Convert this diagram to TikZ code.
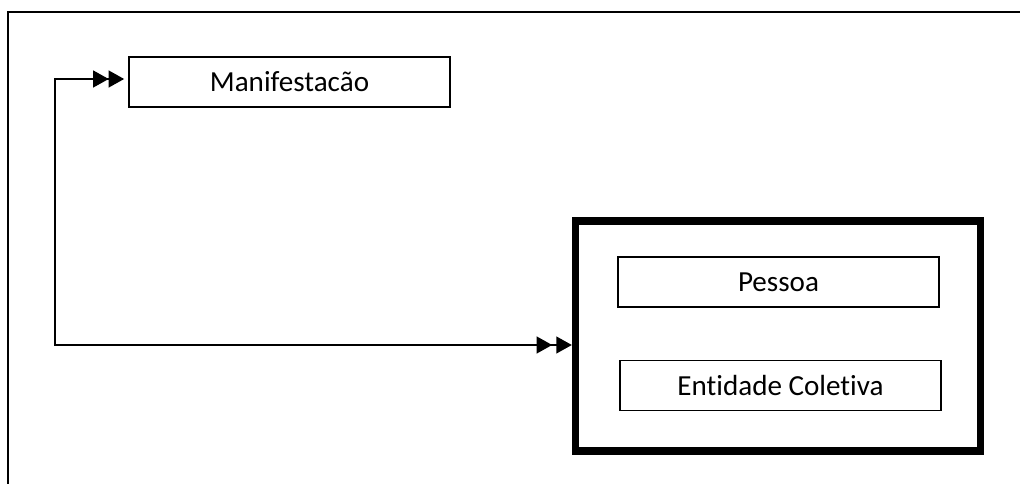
\documentclass[tikz,border=0pt]{standalone}
\usepackage{fontspec}
\setmainfont{Carlito}[Ligatures=NoCommon]
\usepackage{tikz}
\usetikzlibrary{arrows.meta}
\tikzstyle{entity} = [rectangle, draw, line width=1pt, minimum width=8.02cm, minimum height=1.25cm, font=\fontsize{20.7}{24}\selectfont]
\tikzstyle{group} = [rectangle, draw, line width=5.3pt, minimum width=10.12cm, minimum height=5.75cm]
\tikzstyle{link} = [{Triangle[length=11pt,width=12pt,sep=3pt]Triangle[length=11pt,width=12pt]}-{Triangle[length=11pt,width=12pt,sep=3pt]Triangle[length=11pt,width=12pt]}, line width=1pt]

\begin{document}
\begin{tikzpicture}[x=0.025cm,y=-0.025cm]
  \useasboundingbox (0,0) rectangle (1020,484);
  \draw[line width=1.4pt] (8,484) -- (8,12) -- (1020,12);

  \node[entity] (M) at (289.5,82) {Manifestacão};
  \node[group] (R) at (778,336) {};
  \node[entity] (P) at (778.5,282) {Pessoa};
  \node[entity] (E) at (780.5,385.5) {Entidade Coletiva};

  \coordinate (top) at (55,79);
  \coordinate (low) at (55,345);
  \draw[link] (top -| M.west) -- (top) -- (low) -- (low -| R.west);
\end{tikzpicture}
\end{document}
